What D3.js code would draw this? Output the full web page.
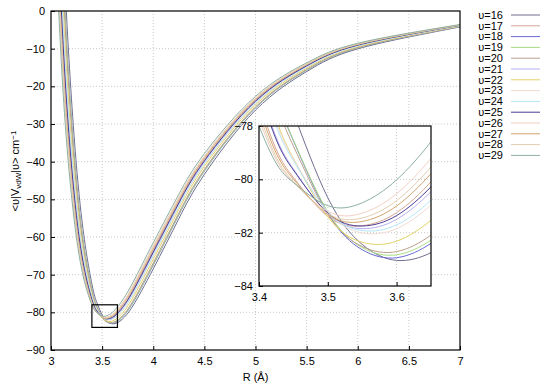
<!DOCTYPE html>
<html>
<head>
<meta charset="utf-8">
<script src="https://cdn.jsdelivr.net/npm/d3@7"></script>
<style>
  body { margin: 0; background: #fff; }
  text { font-family: "Liberation Sans", Arial, sans-serif; font-size: 11px; fill: #000; }
</style>
</head>
<body>
<script>
// vdW matrix elements <v|VvdW|v> vs R, one curve per vibrational level v
const R = [3.0, 3.1, 3.2, 3.3, 3.4, 3.45, 3.5, 3.55, 3.6, 3.65, 3.7, 3.8, 4.0, 4.25, 4.5, 5.0, 5.5, 6.0, 7.0];

const v16 = [119.29, 30.90, -23.19, -55.03, -72.48, -77.50, -80.69, -82.44, -83.04, -82.75, -81.76, -78.32, -68.46, -55.15, -43.38, -26.32, -16.09, -10.05, -4.24];
const v17 = [65.96, -2.17, -42.74, -65.58, -77.07, -79.93, -81.39, -81.74, -81.25, -80.09, -78.43, -74.10, -63.62, -50.58, -39.46, -23.71, -14.42, -8.98, -3.77];
const v18 = [104.87, 21.75, -28.80, -58.26, -74.12, -78.55, -81.27, -82.64, -82.94, -82.40, -81.22, -77.51, -67.43, -54.13, -42.49, -25.71, -15.70, -9.80, -4.13];
const v19 = [103.78, 21.11, -29.14, -58.41, -74.14, -78.53, -81.22, -82.56, -82.83, -82.28, -81.09, -77.37, -67.28, -54.00, -42.38, -25.64, -15.65, -9.77, -4.11];
const v20 = [99.52, 18.46, -30.73, -59.28, -74.54, -78.75, -81.30, -82.52, -82.71, -82.09, -80.84, -77.05, -66.91, -53.65, -42.07, -25.44, -15.52, -9.69, -4.08];
const v21 = [73.20, 2.31, -40.10, -64.16, -76.46, -79.61, -81.30, -81.85, -81.50, -80.46, -78.89, -74.68, -64.29, -51.20, -39.99, -24.07, -14.65, -9.13, -3.84];
const v22 = [88.82, 11.82, -34.63, -61.37, -75.43, -79.21, -81.41, -82.36, -82.32, -81.53, -80.15, -76.18, -65.92, -52.71, -41.27, -24.91, -15.18, -9.47, -3.98];
const v23 = [82.45, 8.03, -36.74, -62.37, -75.70, -79.23, -81.22, -82.01, -81.85, -80.96, -79.51, -75.45, -65.15, -52.02, -40.69, -24.53, -14.94, -9.32, -3.92];
const v24 = [79.76, 6.38, -37.69, -62.85, -75.89, -79.30, -81.21, -81.92, -81.71, -80.78, -79.30, -75.20, -64.87, -51.76, -40.47, -24.39, -14.85, -9.26, -3.89];
const v25 = [70.85, 0.89, -40.91, -64.56, -76.59, -79.65, -81.26, -81.75, -81.36, -80.28, -78.69, -74.44, -64.02, -50.97, -39.79, -23.94, -14.57, -9.08, -3.81];
const v26 = [54.53, -9.10, -46.67, -67.52, -77.72, -80.11, -81.20, -81.27, -80.54, -79.21, -77.42, -72.92, -62.35, -49.42, -38.48, -23.07, -14.01, -8.72, -3.66];
const v27 = [61.94, -4.61, -44.13, -66.27, -77.30, -79.99, -81.32, -81.58, -81.00, -79.78, -78.08, -73.69, -63.17, -50.17, -39.11, -23.49, -14.28, -8.89, -3.73];
const v28 = [58.39, -6.78, -45.37, -66.89, -77.53, -80.08, -81.29, -81.45, -80.80, -79.53, -77.78, -73.34, -62.80, -49.82, -38.82, -23.29, -14.16, -8.81, -3.70];
const v29 = [47.72, -13.16, -48.92, -68.58, -78.00, -80.12, -80.99, -80.88, -80.02, -78.59, -76.72, -72.13, -61.52, -48.67, -37.85, -22.66, -13.76, -8.56, -3.59];

const labels = ['υ=16', 'υ=17', 'υ=18', 'υ=19', 'υ=20', 'υ=21', 'υ=22', 'υ=23', 'υ=24', 'υ=25', 'υ=26', 'υ=27', 'υ=28', 'υ=29'];
const series = [v16, v17, v18, v19, v20, v21, v22, v23, v24, v25, v26, v27, v28, v29];

const xTicks = [3, 3.5, 4, 4.5, 5, 5.5, 6, 6.5, 7];
const yTicks = [0, -10, -20, -30, -40, -50, -60, -70, -80, -90];
const insetXTicks = [3.4, 3.5, 3.6];
const insetYTicks = [-78, -80, -82, -84];

// line colours (gnuplot-ish pastel set)
const colors = ['#6e6e90', '#d6a694', '#6a6ad6', '#a8dc84', '#bca08e', '#b4b0f0', '#e2d266',
  '#f0dcd4', '#b4e6f6', '#4c3c94', '#f2d0c4', '#d4a46c', '#e0ceb0', '#8cb0a0'];

const width = 550, height = 388;
const fmt = d3.format('');

const svg = d3.select('body').append('svg')
  .attr('width', width)
  .attr('height', height);

// Main scales
const x = d3.scaleLinear().domain([3, 7]).range([51, 460]);
const y = d3.scaleLinear().domain([-90, 0]).range([350, 11]);

svg.append('clipPath').attr('id', 'clip-main')
  .append('rect')
  .attr('x', x(3)).attr('y', y(0))
  .attr('width', x(7) - x(3)).attr('height', y(-90) - y(0));

// Grid
const grid = svg.append('g').attr('class', 'grid');
grid.selectAll('.vgrid')
  .data(xTicks.slice(1, -1))
  .enter().append('line')
  .attr('x1', d => x(d)).attr('x2', d => x(d))
  .attr('y1', y(0)).attr('y2', y(-90))
  .attr('stroke', '#bbb').attr('stroke-width', 0.8)
  .attr('stroke-dasharray', '1,2');
grid.selectAll('.hgrid')
  .data(yTicks.slice(1, -1))
  .enter().append('line')
  .attr('x1', x(3)).attr('x2', x(7))
  .attr('y1', d => y(d)).attr('y2', d => y(d))
  .attr('stroke', '#bbb').attr('stroke-width', 0.8)
  .attr('stroke-dasharray', '1,2');

// Axes
const xAxis = svg.append('g')
  .attr('transform', `translate(0,${y(-90)})`)
  .call(d3.axisBottom(x).tickValues(xTicks).tickFormat(fmt).tickSize(-4).tickSizeOuter(0).tickPadding(7));
const yAxis = svg.append('g')
  .attr('transform', `translate(${x(3)},0)`)
  .call(d3.axisLeft(y).tickValues(yTicks).tickFormat(fmt).tickSize(-4).tickSizeOuter(0).tickPadding(6));
[xAxis, yAxis].forEach(g => {
  g.select('.domain').remove();
  g.attr('font-size', null).attr('font-family', null);
  g.selectAll('text').style('font-size', '11px');
});

// Curves
const line = d3.line()
  .x((d, i) => x(R[i]))
  .y(d => y(d))
  .curve(d3.curveNatural);

svg.append('g')
  .attr('clip-path', 'url(#clip-main)')
  .selectAll('path')
  .data(series)
  .enter().append('path')
  .attr('d', line)
  .attr('fill', 'none')
  .attr('stroke', (d, i) => colors[i])
  .attr('stroke-width', 1);

// Frame
svg.append('rect')
  .attr('x', x(3)).attr('y', y(0))
  .attr('width', x(7) - x(3)).attr('height', y(-90) - y(0))
  .attr('fill', 'none').attr('stroke', '#000').attr('stroke-width', 1.2);

// Zoom box marking the inset region
svg.append('rect')
  .attr('x', x(3.4)).attr('y', y(-78))
  .attr('width', x(3.65) - x(3.4)).attr('height', y(-84) - y(-78))
  .attr('fill', 'none').attr('stroke', '#000').attr('stroke-width', 1.2);

// Axis titles
svg.append('text')
  .attr('x', x(5)).attr('y', 381)
  .attr('text-anchor', 'middle')
  .text('R (Å)');

const ylab = svg.append('text')
  .attr('transform', 'translate(19,171) rotate(-90)')
  .attr('text-anchor', 'middle');
ylab.append('tspan').text('<υ|V');
ylab.append('tspan').attr('baseline-shift', '-25%').style('font-size', '8px').text('vdW');
ylab.append('tspan').text('|υ> cm');
ylab.append('tspan').attr('baseline-shift', '40%').style('font-size', '8px').text('−1');

// Inset
const xi = d3.scaleLinear().domain([3.4, 3.65]).range([259, 431]);
const yi = d3.scaleLinear().domain([-84, -78]).range([286, 126]);

const inset = svg.append('g');
inset.append('rect')
  .attr('x', xi(3.4)).attr('y', yi(-78))
  .attr('width', xi(3.65) - xi(3.4)).attr('height', yi(-84) - yi(-78))
  .attr('fill', '#fff');

svg.append('clipPath').attr('id', 'clip-inset')
  .append('rect')
  .attr('x', xi(3.4)).attr('y', yi(-78))
  .attr('width', xi(3.65) - xi(3.4)).attr('height', yi(-84) - yi(-78));

inset.selectAll('.ivgrid')
  .data(insetXTicks.slice(1))
  .enter().append('line')
  .attr('x1', d => xi(d)).attr('x2', d => xi(d))
  .attr('y1', yi(-78)).attr('y2', yi(-84))
  .attr('stroke', '#bbb').attr('stroke-width', 0.8)
  .attr('stroke-dasharray', '1,2');
inset.selectAll('.ihgrid')
  .data(insetYTicks.slice(1, -1))
  .enter().append('line')
  .attr('x1', xi(3.4)).attr('x2', xi(3.65))
  .attr('y1', d => yi(d)).attr('y2', d => yi(d))
  .attr('stroke', '#bbb').attr('stroke-width', 0.8)
  .attr('stroke-dasharray', '1,2');

const ixAxis = inset.append('g')
  .attr('transform', `translate(0,${yi(-84)})`)
  .call(d3.axisBottom(xi).tickValues(insetXTicks).tickFormat(fmt).tickSize(-4).tickSizeOuter(0).tickPadding(7));
const iyAxis = inset.append('g')
  .attr('transform', `translate(${xi(3.4)},0)`)
  .call(d3.axisLeft(yi).tickValues(insetYTicks).tickFormat(fmt).tickSize(-4).tickSizeOuter(0).tickPadding(6));
[ixAxis, iyAxis].forEach(g => {
  g.select('.domain').remove();
  g.attr('font-size', null).attr('font-family', null);
  g.selectAll('text').style('font-size', '11px');
});

const iline = d3.line()
  .x((d, i) => xi(R[i]))
  .y(d => yi(d))
  .curve(d3.curveNatural);

inset.append('g')
  .attr('clip-path', 'url(#clip-inset)')
  .selectAll('path')
  .data(series)
  .enter().append('path')
  .attr('d', iline)
  .attr('fill', 'none')
  .attr('stroke', (d, i) => colors[i])
  .attr('stroke-width', 1);

inset.append('rect')
  .attr('x', xi(3.4)).attr('y', yi(-78))
  .attr('width', xi(3.65) - xi(3.4)).attr('height', yi(-84) - yi(-78))
  .attr('fill', 'none').attr('stroke', '#000').attr('stroke-width', 1.2);

// Legend
const legend = svg.append('g').attr('class', 'legend');
const rows = legend.selectAll('g')
  .data(labels)
  .enter().append('g')
  .attr('transform', (d, i) => `translate(0,${15 + i * 10.8})`);
rows.append('text')
  .attr('x', 503).attr('dy', '0.35em')
  .attr('text-anchor', 'end')
  .text(d => d);
rows.append('line')
  .attr('x1', 511).attr('x2', 540)
  .attr('stroke', (d, i) => colors[i])
  .attr('stroke-width', 1);
</script>
</body>
</html>
